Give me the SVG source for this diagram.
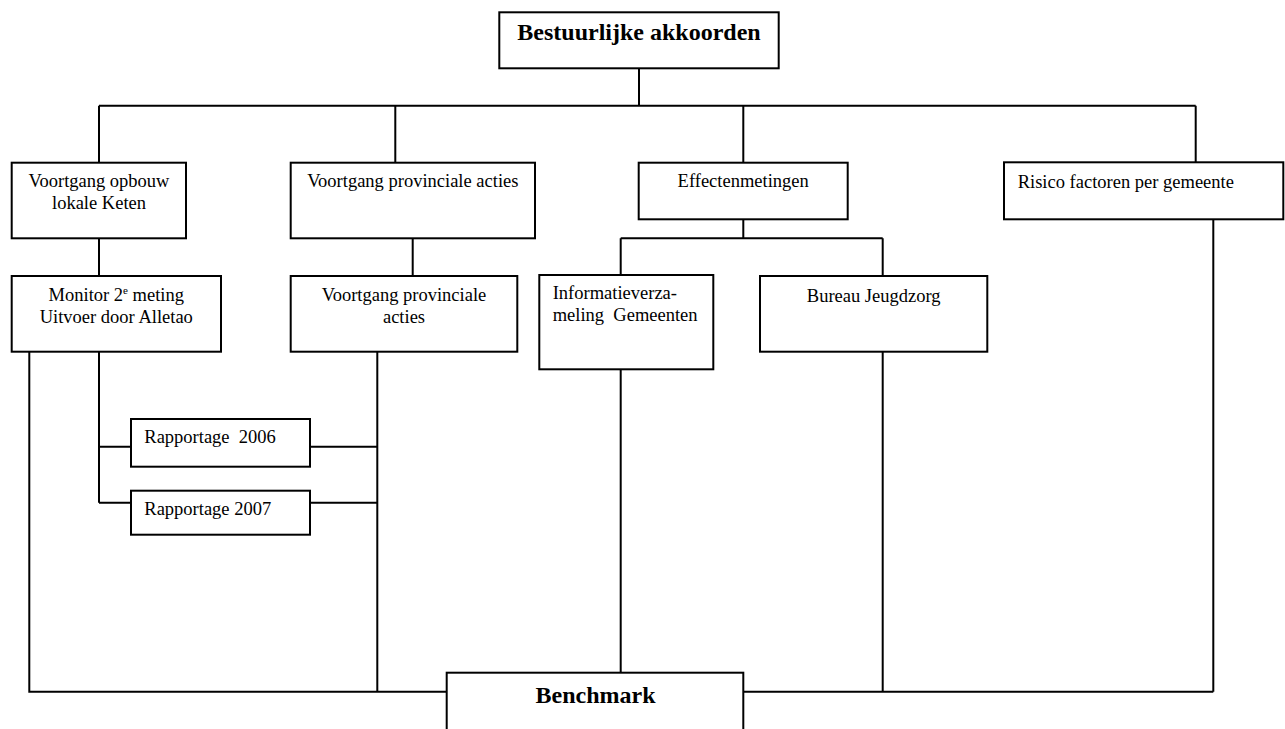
<svg xmlns="http://www.w3.org/2000/svg" width="1285" height="729" viewBox="0 0 1285 729">
<style>
.box{fill:#fff;stroke:#000;stroke-width:2}
.ln{fill:none;stroke:#000;stroke-width:2}
.t{font-family:"Liberation Serif","Times New Roman",serif;font-size:18.5px;fill:#000}
.b{font-family:"Liberation Serif","Times New Roman",serif;font-size:24px;font-weight:bold;fill:#000}
.c{text-anchor:middle}
</style>
<rect width="1285" height="729" fill="#fff"/>
<g id="connectors">
<path class="ln" d="M639 68V105.7M99 105.7H1195.7M99 105.7V162.7M395.3 105.7V162.7M743.3 105.7V162.7M1195.7 105.7V162.3"/>
<path class="ln" d="M99 238.3V276M412.7 238.3V276"/>
<path class="ln" d="M743.3 219.3V238.3M620.7 238.3H882.7M620.7 238.3V275M882.7 238.3V276"/>
<path class="ln" d="M99 351.7V502.7M99 446.7H131M99 502.7H131M310 446.7H377.7M310 502.7H377.7"/>
<path class="ln" d="M29.3 351.7V691.7H446.7M377.3 351.7V691.7"/>
<path class="ln" d="M620.7 369.3V672.7"/>
<path class="ln" d="M882.7 351.7V691.7M743.3 691.7H1213.3M1213.3 219.3V691.7"/>
</g>
<g id="n-bestuurlijke">
<rect class="box" x="499.3" y="12.3" width="279.4" height="56"/>
<text class="b c" x="639" y="40">Bestuurlijke akkoorden</text>
</g>
<g id="n-opbouw">
<rect class="box" x="11.7" y="162.7" width="174.3" height="75.6"/>
<text class="t c" x="99" y="186.7">Voortgang opbouw</text>
<text class="t c" x="99" y="209">lokale Keten</text>
</g>
<g id="n-provinciaal">
<rect class="box" x="290.7" y="162.7" width="244.3" height="75.6"/>
<text class="t c" x="412.8" y="186.7">Voortgang provinciale acties</text>
</g>
<g id="n-effect">
<rect class="box" x="638.7" y="162.7" width="209" height="56.6"/>
<text class="t c" x="743.2" y="186.7">Effectenmetingen</text>
</g>
<g id="n-risico">
<rect class="box" x="1004" y="162.3" width="279.3" height="57"/>
<text class="t" x="1017.7" y="188.3">Risico factoren per gemeente</text>
</g>
<g id="n-monitor">
<rect class="box" x="11.7" y="276" width="209.3" height="75.7"/>
<text class="t c" x="116.3" y="301">Monitor 2<tspan font-size="11" dy="-7">e</tspan><tspan dy="7"> meting</tspan></text>
<text class="t c" x="116.3" y="323">Uitvoer door Alletao</text>
</g>
<g id="n-provinciaal2">
<rect class="box" x="290.7" y="276" width="226.6" height="75.7"/>
<text class="t c" x="404" y="301">Voortgang provinciale</text>
<text class="t c" x="404" y="323">acties</text>
</g>
<g id="n-informatie">
<rect class="box" x="539.3" y="275" width="174" height="94.3"/>
<text class="t" x="552.7" y="299.3">Informatieverza-</text>
<text class="t" x="552.7" y="320.7" xml:space="preserve">meling  Gemeenten</text>
</g>
<g id="n-bureau">
<rect class="box" x="760" y="276" width="227.3" height="75.7"/>
<text class="t c" x="873.7" y="301.7">Bureau Jeugdzorg</text>
</g>
<g id="n-rap2006">
<rect class="box" x="131" y="419" width="179" height="47.7"/>
<text class="t" x="144.3" y="442.7" xml:space="preserve">Rapportage  2006</text>
</g>
<g id="n-rap2007">
<rect class="box" x="131" y="490.7" width="179" height="44"/>
<text class="t" x="144.3" y="515">Rapportage 2007</text>
</g>
<g id="n-benchmark">
<rect class="box" x="446.7" y="672.7" width="296.6" height="70"/>
<text class="b c" x="595.5" y="702.7">Benchmark</text>
</g>
</svg>
